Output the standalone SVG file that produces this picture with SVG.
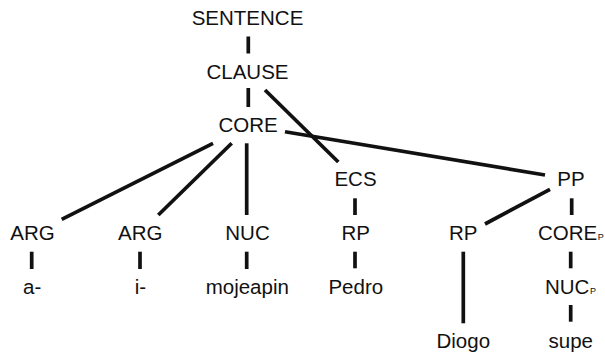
<svg xmlns="http://www.w3.org/2000/svg" width="605" height="353" viewBox="0 0 605 353">
  <style>
    .lbl { font-family: "Liberation Sans", Arial, Helvetica, sans-serif; font-size: 20.5px; fill: #111; text-anchor: middle; }
    .lbl-start { text-anchor: start; }
    .sub { font-size: 9px; }
    .edge { stroke: #111; stroke-width: 3.7; fill: none; stroke-linecap: butt; }
  </style>
  <rect width="605" height="353" fill="#fff"/>

  <g id="connectors">
    <line class="edge" x1="248.3" y1="36.5" x2="248.3" y2="53.5"/>
    <line class="edge" x1="248.3" y1="88" x2="248.3" y2="107"/>
    <line class="edge" x1="265" y1="90" x2="338.3" y2="162"/>
    <line class="edge" x1="285" y1="131.7" x2="545" y2="175"/>
    <line class="edge" x1="213" y1="143.3" x2="61.7" y2="219.3"/>
    <line class="edge" x1="231.7" y1="143.3" x2="158.3" y2="215"/>
    <line class="edge" x1="246.7" y1="143.3" x2="246.7" y2="215"/>
    <line class="edge" x1="31.7" y1="251.7" x2="31.7" y2="269"/>
    <line class="edge" x1="140" y1="251.7" x2="140" y2="269"/>
    <line class="edge" x1="246.7" y1="251.7" x2="246.7" y2="269"/>
    <line class="edge" x1="355" y1="198.3" x2="355" y2="215"/>
    <line class="edge" x1="355" y1="251.7" x2="355" y2="268.3"/>
    <line class="edge" x1="550" y1="189.3" x2="485" y2="224"/>
    <line class="edge" x1="571.7" y1="198.3" x2="571.7" y2="215"/>
    <line class="edge" x1="463.3" y1="251.7" x2="463.3" y2="323.3"/>
    <line class="edge" x1="570.7" y1="251.7" x2="570.7" y2="268.3"/>
    <line class="edge" x1="570.7" y1="305" x2="570.7" y2="321.7"/>
  </g>

  <g id="sentence"><text class="lbl" x="247.5" y="25">SENTENCE</text></g>
  <g id="clause"><text class="lbl" x="247.5" y="78.5">CLAUSE</text></g>
  <g id="core"><text class="lbl" x="248" y="132">CORE</text></g>
  <g id="ecs"><text class="lbl" x="355.5" y="186">ECS</text></g>
  <g id="pp"><text class="lbl" x="571" y="186">PP</text></g>
  <g id="arg1"><text class="lbl" x="32.5" y="240">ARG</text></g>
  <g id="arg2"><text class="lbl" x="140.3" y="240">ARG</text></g>
  <g id="nuc"><text class="lbl" x="247.5" y="240">NUC</text></g>
  <g id="rp1"><text class="lbl" x="355.8" y="240">RP</text></g>
  <g id="rp2"><text class="lbl" x="463.3" y="240">RP</text></g>
  <g id="core-p"><text class="lbl lbl-start" x="538" y="240">CORE<tspan class="sub" dx="0.5">P</tspan></text></g>
  <g id="a"><text class="lbl" x="32.2" y="294">a-</text></g>
  <g id="i"><text class="lbl" x="140.5" y="294">i-</text></g>
  <g id="mojeapin"><text class="lbl" x="247.3" y="294">mojeapin</text></g>
  <g id="pedro"><text class="lbl" x="355.8" y="294">Pedro</text></g>
  <g id="nuc-p"><text class="lbl lbl-start" x="545" y="294">NUC<tspan class="sub" dx="0.5">P</tspan></text></g>
  <g id="diogo"><text class="lbl" x="463.3" y="347.5">Diogo</text></g>
  <g id="supe"><text class="lbl" x="570.8" y="347.5">supe</text></g>
</svg>
